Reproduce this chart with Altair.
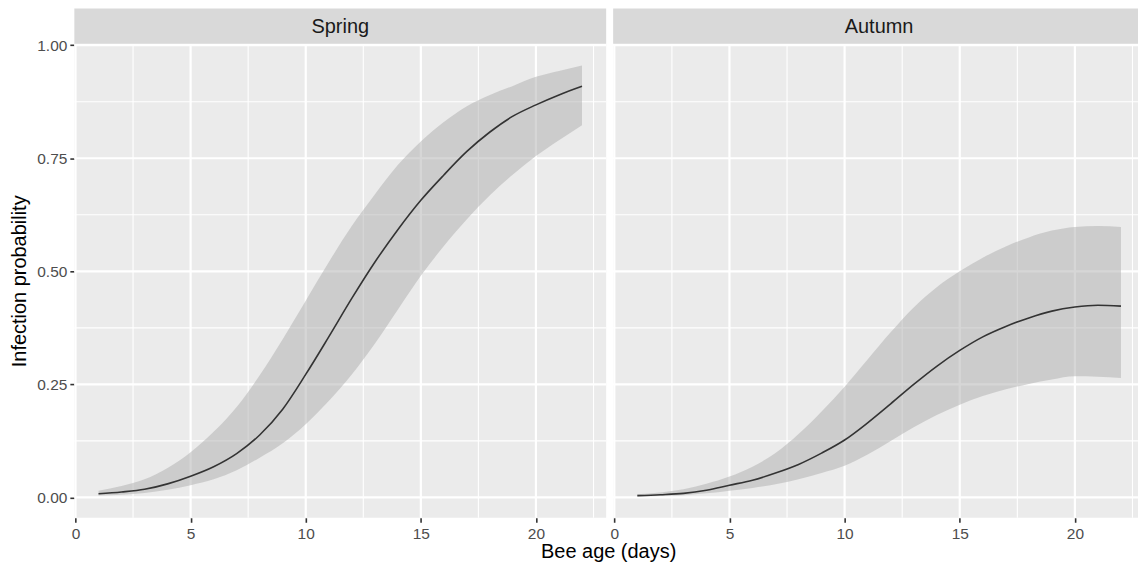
import altair as alt
import pandas as pd

days = list(range(1, 23))

spring_mean = [0.008, 0.012, 0.018, 0.030, 0.047, 0.068, 0.097, 0.138, 0.195, 0.272, 0.355,
               0.440, 0.520, 0.592, 0.657, 0.713, 0.765, 0.808, 0.843, 0.868, 0.890, 0.909]
spring_lower = [0.004, 0.006, 0.010, 0.017, 0.027, 0.040, 0.060, 0.088, 0.120, 0.162, 0.213,
                0.272, 0.340, 0.415, 0.490, 0.556, 0.615, 0.668, 0.714, 0.755, 0.790, 0.823]
spring_upper = [0.015, 0.025, 0.040, 0.065, 0.100, 0.145, 0.200, 0.270, 0.350, 0.435, 0.520,
                0.600, 0.670, 0.735, 0.787, 0.830, 0.865, 0.890, 0.910, 0.930, 0.943, 0.955]

autumn_mean = [0.004, 0.006, 0.009, 0.016, 0.027, 0.038, 0.054, 0.073, 0.098, 0.127, 0.165,
               0.207, 0.250, 0.290, 0.325, 0.355, 0.378, 0.397, 0.412, 0.421, 0.425, 0.423]
autumn_lower = [0.002, 0.003, 0.005, 0.009, 0.015, 0.021, 0.029, 0.040, 0.054, 0.070, 0.095,
                0.125, 0.155, 0.182, 0.205, 0.224, 0.239, 0.251, 0.261, 0.268, 0.267, 0.264]
autumn_upper = [0.007, 0.011, 0.018, 0.030, 0.046, 0.068, 0.098, 0.140, 0.190, 0.245, 0.305,
                0.365, 0.420, 0.465, 0.500, 0.530, 0.555, 0.575, 0.590, 0.598, 0.600, 0.598]

seasons = ["Spring", "Autumn"]
x_major = [0, 5, 10, 15, 20]
x_minor = [2.5, 7.5, 12.5, 17.5, 22.5]
y_major = [0.0, 0.25, 0.5, 0.75, 1.0]
y_minor = [0.125, 0.375, 0.625, 0.875]

FONT = "Liberation Sans"
PANEL_H = 475
STRIP_H = 35.4
FULL_W = 533


def panel(name, mean, lower, upper, width, xmax, first):
    df = pd.DataFrame({"day": days, "mean": mean, "lower": lower, "upper": upper})
    xs = alt.Scale(domain=[-0.05, xmax], nice=False, zero=False)
    ys = alt.Scale(domain=[-0.045, 1.003], nice=False, zero=False)

    xaxis_kw = dict(values=x_major, grid=False, domain=False, tickColor="#333333",
                    tickSize=4.5, tickWidth=1.6, labelColor="#4D4D4D", labelFontSize=15.5,
                    labelFont=FONT, labelPadding=4, labelFlush=False, format="d")
    if first:
        xaxis = alt.Axis(title="Bee age (days)", titleFont=FONT, titleFontSize=20,
                         titleFontWeight="normal", titleColor="#000000",
                         titleX=535, titleY=40, titleBaseline="alphabetic",
                         titleAlign="center", **xaxis_kw)
        yaxis = alt.Axis(values=y_major, grid=False, domain=False, tickColor="#333333",
                         tickSize=4.5, tickWidth=1.6, labelColor="#4D4D4D",
                         labelFontSize=15.5, labelFont=FONT, labelPadding=3,
                         labelFlush=False, format=".2f",
                         title="Infection probability", titleFont=FONT, titleFontSize=20,
                         titleFontWeight="normal", titleColor="#000000",
                         titleX=-54.5, titleY=PANEL_H / 2, titleBaseline="middle",
                         titleAlign="center", titleAngle=270)
    else:
        xaxis = alt.Axis(title="", **xaxis_kw)
        yaxis = None

    def rules_x(vals, w):
        return alt.Chart(pd.DataFrame({"v": vals})).mark_rule(
            color="white", strokeWidth=w).encode(x=alt.X("v:Q", scale=xs, axis=xaxis))

    def rules_y(vals, w):
        return alt.Chart(pd.DataFrame({"v": vals})).mark_rule(
            color="white", strokeWidth=w).encode(y=alt.Y("v:Q", scale=ys, axis=yaxis))

    base = alt.Chart(df)
    ribbon = base.mark_area(color="#ADADAD", opacity=0.5, interpolate="monotone").encode(
        x=alt.X("day:Q", scale=xs, axis=xaxis),
        y=alt.Y("lower:Q", scale=ys, axis=yaxis),
        y2="upper:Q",
    )
    line = base.mark_line(color="#333333", strokeWidth=1.6, interpolate="monotone").encode(
        x=alt.X("day:Q", scale=xs, axis=xaxis),
        y=alt.Y("mean:Q", scale=ys, axis=yaxis),
    )
    sdf = pd.DataFrame({"season": [name]})
    strip = alt.Chart(sdf).mark_rect(color="#D9D9D9").encode(
        x=alt.value(0), x2=alt.value(width), y=alt.value(-STRIP_H), y2=alt.value(0))
    strip_text = alt.Chart(sdf).mark_text(
        font=FONT, fontSize=20, color="#1A1A1A", baseline="middle", align="center").encode(
        x=alt.value(FULL_W / 2), y=alt.value(-STRIP_H / 2 + 1), text="season:N")

    return alt.layer(
        rules_x(x_minor, 1.1), rules_y(y_minor, 1.1),
        rules_x(x_major, 2.2), rules_y(y_major, 2.2),
        ribbon, line, strip, strip_text,
    ).properties(width=width, height=PANEL_H)


left = panel(seasons[0], spring_mean, spring_lower, spring_upper, FULL_W, 23.05, True)
right = panel(seasons[1], autumn_mean, autumn_lower, autumn_upper, 526, 22.74, False)

chart = alt.hconcat(left, right, spacing=7, bounds="flush").properties(
    padding={"left": 9.5, "top": 7.3, "right": 0, "bottom": 0},
    background="white",
).configure_view(strokeWidth=0, fill="#EBEBEB")

chart.save("out.html", embed_options={"renderer": "svg", "actions": False})
